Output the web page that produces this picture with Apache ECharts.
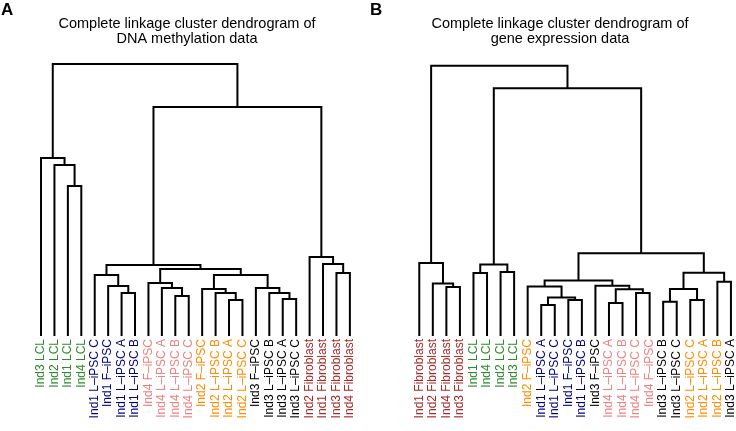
<!DOCTYPE html>
<html><head><meta charset="utf-8">
<script src="https://cdn.jsdelivr.net/npm/echarts@6/dist/echarts.min.js"></script>
<style>html,body{margin:0;padding:0;background:#fff}#c{width:736px;height:431px}</style>
</head><body><div id="c"></div>
<script>
// ---- Data (heights in arbitrary linkage units) ----
const titleA = ['Complete linkage cluster dendrogram of', 'DNA methylation data'];
const titleB = ['Complete linkage cluster dendrogram of', 'gene expression data'];

const leavesA = ['Ind3 LCL','Ind2 LCL','Ind1 LCL','Ind4 LCL',
  'Ind1 L–iPSC C','Ind1 F–iPSC','Ind1 L–iPSC A','Ind1 L–iPSC B',
  'Ind4 F–iPSC','Ind4 L–iPSC A','Ind4 L–iPSC B','Ind4 L–iPSC C',
  'Ind2 F–iPSC','Ind2 L–iPSC B','Ind2 L–iPSC A','Ind2 L–iPSC C',
  'Ind3 F–iPSC','Ind3 L–iPSC B','Ind3 L–iPSC A','Ind3 L–iPSC C',
  'Ind2 Fibroblast','Ind1 Fibroblast','Ind3 Fibroblast','Ind4 Fibroblast'];
// merges: [childA, childB, height]; ids < 24 are leaves, id 24+k is merge k
const mergesA = [
  [2,3,150],[1,24,171],[0,25,178],
  [6,7,43],[5,27,50],[4,28,61],
  [10,11,40],[9,30,48],[8,31,53],
  [14,15,36],[13,33,43],[12,34,47],
  [18,19,37],[17,36,43],[16,37,48],
  [35,38,61],[32,39,67],[29,40,71],
  [22,23,63],[21,42,72],[20,43,79],
  [41,44,229],[26,45,272]
];

const leavesB = ['Ind1 Fibroblast','Ind2 Fibroblast','Ind4 Fibroblast','Ind3 Fibroblast',
  'Ind1 LCL','Ind4 LCL','Ind2 LCL','Ind3 LCL',
  'Ind2 F–iPSC','Ind1 L–iPSC A','Ind1 L–iPSC C','Ind1 F–iPSC','Ind1 L–iPSC B',
  'Ind3 F–iPSC','Ind4 L–iPSC A','Ind4 L–iPSC B','Ind4 L–iPSC C','Ind4 F–iPSC',
  'Ind3 L–iPSC B','Ind3 L–iPSC C','Ind2 L–iPSC C','Ind2 L–iPSC A','Ind2 L–iPSC B','Ind3 L–iPSC A'];
const mergesB = [
  [2,3,49],[1,24,52.5],[0,25,73],
  [4,5,63],[6,7,64],[27,28,71.5],
  [9,10,31],[11,12,36],[30,31,38.5],[8,32,49.5],
  [14,15,33],[16,17,43],[34,35,46.7],[13,36,50.3],
  [33,37,55.5],
  [18,19,34.3],[20,21,36],[39,40,47],[22,23,54.3],[41,42,63.3],
  [38,43,82.7],[29,44,247.7],[26,45,270.3]
];

// ---- Styling ----
function leafColor(name) {
  if (name.indexOf('LCL') >= 0) return '#2e8b2e';
  if (name.indexOf('Fibroblast') >= 0) return '#a52a2a';
  if (name.indexOf('Ind1') === 0) return '#000080';
  if (name.indexOf('Ind2') === 0) return '#ff8c00';
  if (name.indexOf('Ind4') === 0) return '#f08080';
  return '#000000';
}
const FONT = '"Liberation Sans", Arial, Helvetica, sans-serif';

function makeRender(merges, n) {
  return function (params, api) {
    const m = merges[params.dataIndex];
    const xOf = id => id < n ? api.coord([id, 0])[0]
      : (xOf(merges[id - n][0]) + xOf(merges[id - n][1])) / 2;
    const hOf = id => id < n ? 0 : merges[id - n][2];
    const xa = xOf(m[0]), xb = xOf(m[1]);
    const y = api.coord([0, m[2]])[1];
    const ya = api.coord([0, hOf(m[0])])[1];
    const yb = api.coord([0, hOf(m[1])])[1];
    return {
      type: 'polyline',
      shape: { points: [[xa, ya], [xa, y], [xb, y], [xb, yb]] },
      style: { stroke: '#000', fill: null, lineWidth: 2, lineJoin: 'miter', lineCap: 'butt' }
    };
  };
}

function xAxisFor(leaves, gi) {
  return {
    type: 'category', gridIndex: gi, boundaryGap: true, min: 0, max: leaves.length - 1,
    data: leaves.map(l => ({ value: l, textStyle: { color: leafColor(l) } })),
    axisLine: { show: false }, axisTick: { show: false }, splitLine: { show: false },
    axisLabel: { interval: 0, rotate: 90, margin: 3, fontSize: 12, fontFamily: FONT }
  };
}
function yAxisFor(gi) {
  return { type: 'value', gridIndex: gi, min: 0, max: 300, show: false };
}
function titleTexts(lines, cx) {
  return lines.map((t, i) => ({
    type: 'text', x: cx, y: 24 + i * 15.3,
    style: { text: t, fill: '#000', font: '14.5px ' + FONT, textAlign: 'center', textVerticalAlign: 'middle' }
  }));
}

const chart = echarts.init(document.getElementById('c'), null, { renderer: 'canvas' });
chart.setOption({
  animation: false,
  backgroundColor: '#fff',
  grid: [
    { left: 34.3, width: 322.3, top: 36, height: 300, outerBoundsMode: 'none', containLabel: false },
    { left: 412.5, width: 325.2, top: 36, height: 300, outerBoundsMode: 'none', containLabel: false }
  ],
  xAxis: [xAxisFor(leavesA, 0), xAxisFor(leavesB, 1)],
  yAxis: [yAxisFor(0), yAxisFor(1)],
  series: [
    { type: 'custom', xAxisIndex: 0, yAxisIndex: 0, renderItem: makeRender(mergesA, leavesA.length),
      data: mergesA, encode: { x: 0, y: 2 }, silent: true },
    { type: 'custom', xAxisIndex: 1, yAxisIndex: 1, renderItem: makeRender(mergesB, leavesB.length),
      data: mergesB, encode: { x: 0, y: 2 }, silent: true }
  ],
  graphic: [].concat(
    [{ type: 'text', x: 1, y: 10, style: { text: 'A', fill: '#000', font: 'bold 17px ' + FONT, textVerticalAlign: 'middle' } },
     { type: 'text', x: 370, y: 10, style: { text: 'B', fill: '#000', font: 'bold 17px ' + FONT, textVerticalAlign: 'middle' } }],
    titleTexts(titleA, 187),
    titleTexts(titleB, 560)
  )
});
</script>
</body></html>
